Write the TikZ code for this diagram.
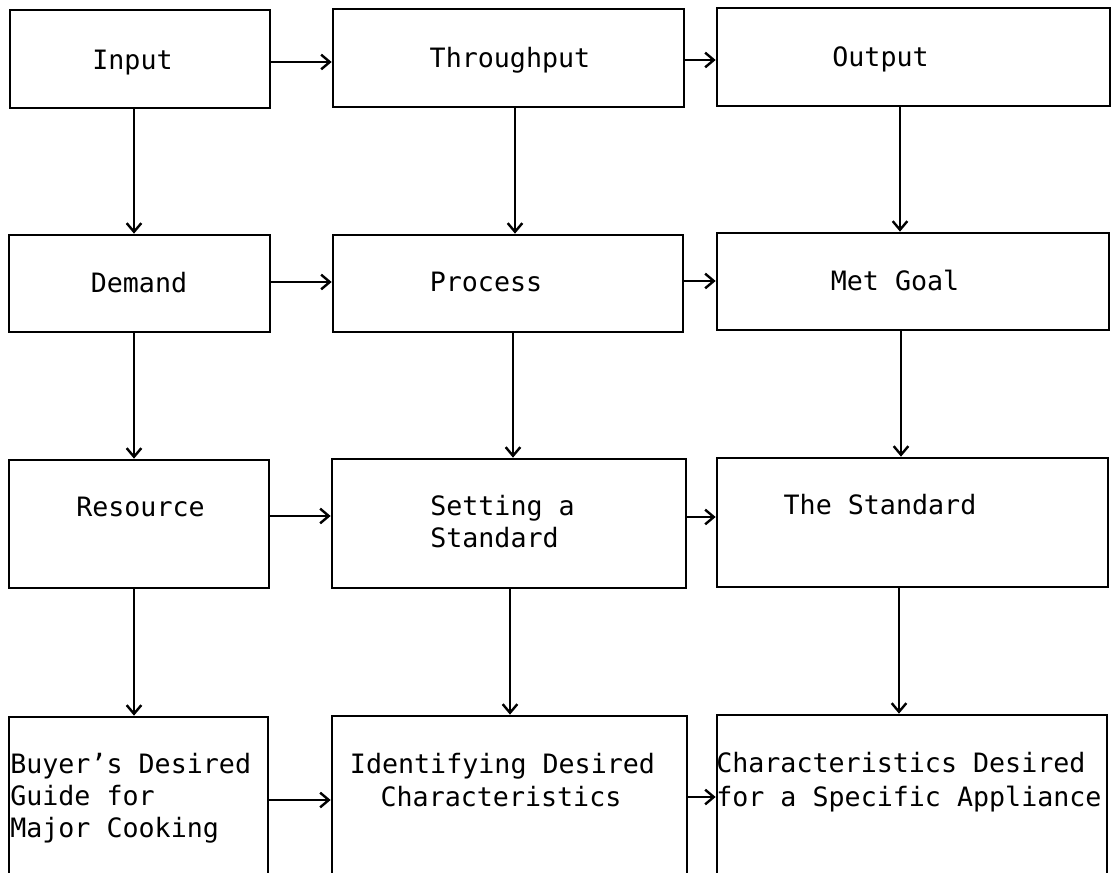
\documentclass[tikz,border=0pt]{standalone}
\usepackage{fontspec}
\setmonofont{DejaVu Sans Mono}
\usetikzlibrary{arrows.meta}
\begin{document}
\begin{tikzpicture}[x=0.75pt,y=-0.75pt,
  bx/.style 2 args={draw, line width=2pt, inner sep=0pt, minimum width=#1*0.75pt, minimum height=#2*0.75pt},
  txt/.style={inner sep=0pt, font=\ttfamily\fontsize{20}{24}\selectfont},
  arr/.style={line width=1.7pt, -{Straight Barb[length=6.5pt,width=11pt,line width=1.8pt]}}]
\useasboundingbox (0,0) rectangle (1115,873);
\clip (0,0) rectangle (1115,873);
% boxes
\node[bx={260}{98}]  (in)  at (140,59) {};
\node[bx={351}{98}]  (thr) at (508.5,58) {};
\node[bx={393}{98}]  (out) at (913.5,57) {};
\node[bx={261}{97}]  (dem) at (139.5,283.5) {};
\node[bx={350}{97}]  (pro) at (508,283.5) {};
\node[bx={392}{97}]  (met) at (913,281.5) {};
\node[bx={260}{128}] (res) at (139,524) {};
\node[bx={354}{129}] (set) at (509,523.5) {};
\node[bx={391}{129}] (std) at (912.5,522.5) {};
\node[bx={259}{183}] (buy) at (138.5,808.5) {};
\node[bx={355}{184}] (idf) at (509.5,808) {};
\node[bx={390}{185}] (chr) at (912,807.5) {};
% texts
\node[txt, anchor=base] (tin)  at (132.5,70) {Input};
\node[txt, anchor=base] (tthr) at (510,68) {Throughput};
\node[txt, anchor=base] (tout) at (880.5,67) {Output};
\node[txt, anchor=base] (tdem) at (139,293) {Demand};
\node[txt, anchor=base] (tpro) at (486,292) {Process};
\node[txt, anchor=base] (tmet) at (895,291) {Met Goal};
\node[txt, anchor=base] (tres) at (140.5,517) {Resource};
\node[txt, anchor=base west] (tset1) at (430,516) {Setting a};
\node[txt, anchor=base west] (tset2) at (430,548) {Standard};
\node[txt, anchor=base] (tstd) at (880,515) {The Standard};
\node[txt, anchor=base west] (tbuy1) at (10,773) {Buyer’s Desired};
\node[txt, anchor=base west] (tbuy2) at (10,805) {Guide for};
\node[txt, anchor=base west] (tbuy3) at (10,837) {Major Cooking};
\node[txt, anchor=base] (tidf1) at (502.5,773) {Identifying Desired};
\node[txt, anchor=base] (tidf2) at (501,806) {Characteristics};
\node[txt, anchor=base west] (tchr1) at (716,772) {Characteristics Desired};
\node[txt, anchor=base west] (tchr2) at (716,806) {for a Specific Appliance};
% horizontal arrows
\draw[arr] (in.east |- 0,62) -- (thr.west |- 0,62);
\draw[arr] (thr.east |- 0,60) -- (out.west |- 0,60);
\draw[arr] (dem.east |- 0,282) -- (pro.west |- 0,282);
\draw[arr] (pro.east |- 0,281) -- (met.west |- 0,281);
\draw[arr] (res.east |- 0,516) -- (set.west |- 0,516);
\draw[arr] (set.east |- 0,517) -- (std.west |- 0,517);
\draw[arr] (buy.east |- 0,800) -- (idf.west |- 0,800);
\draw[arr] (idf.east |- 0,797) -- (chr.west |- 0,797);
% vertical arrows
\draw[arr] (in.south -| 134,0) -- (dem.north -| 134,0);
\draw[arr] (dem.south -| 134,0) -- (res.north -| 134,0);
\draw[arr] (res.south -| 134,0) -- (buy.north -| 134,0);
\draw[arr] (thr.south -| 515,0) -- (pro.north -| 515,0);
\draw[arr] (pro.south -| 513,0) -- (set.north -| 513,0);
\draw[arr] (set.south -| 510,0) -- (idf.north -| 510,0);
\draw[arr] (out.south -| 900,0) -- (met.north -| 900,0);
\draw[arr] (met.south -| 901,0) -- (std.north -| 901,0);
\draw[arr] (std.south -| 899,0) -- (chr.north -| 899,0);
\end{tikzpicture}
\end{document}
